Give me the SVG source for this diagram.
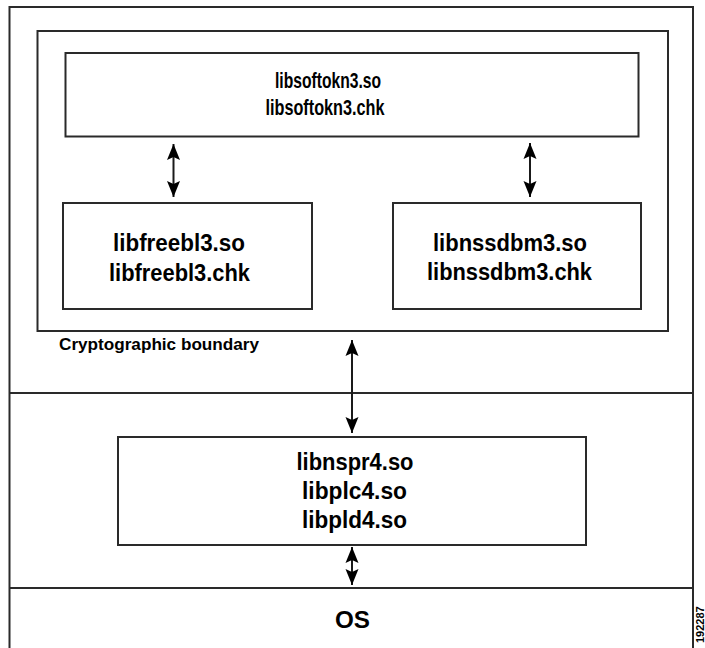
<svg xmlns="http://www.w3.org/2000/svg" width="705" height="648" viewBox="0 0 705 648">
<style>
  .box { fill: none; stroke: #2a2a2a; stroke-width: 2; }
  .ln { stroke: #2a2a2a; stroke-width: 2; fill: none; }
  .t { font-family: "Liberation Sans", Arial, sans-serif; font-weight: bold; fill: #000; text-anchor: middle; }
  .lbl { font-size: 23px; }
  .sm { font-size: 22px; }
  .cap { font-family: "Liberation Sans", Arial, sans-serif; font-weight: bold; font-size: 16.5px; fill: #000; }
  .os { font-family: "Liberation Sans", Arial, sans-serif; font-weight: bold; font-size: 24px; fill: #000; text-anchor: middle; }
  .arr { stroke: #1a1a1a; stroke-width: 2; fill: none; marker-start: url(#ah); marker-end: url(#ah); }
</style>
<defs>
  <marker id="ah" viewBox="-1 -7 18 14" refX="16" refY="0" markerWidth="18" markerHeight="14" markerUnits="userSpaceOnUse" orient="auto-start-reverse">
    <path d="M0,-6.5 L16,0 L0,6.5 L3,0 Z" fill="#000"/>
  </marker>
</defs>
<rect width="705" height="648" fill="#fff"/>

<g id="frame">
  <path class="ln" d="M9.5,650 L9.5,7 L693,7 L693,650"/>
  <line class="ln" x1="9.5" y1="393" x2="693" y2="393"/>
  <line class="ln" x1="9.5" y1="588" x2="693" y2="588"/>
</g>

<g id="boundary">
  <rect class="box" x="37.5" y="31" width="630.5" height="300"/>
  <text class="cap" x="59" y="350" textLength="200" lengthAdjust="spacingAndGlyphs">Cryptographic boundary</text>
</g>

<g id="softokn">
  <rect class="box" x="65.5" y="53" width="573" height="83.5"/>
  <text class="t sm" x="328" y="88" textLength="106" lengthAdjust="spacingAndGlyphs">libsoftokn3.so</text>
  <text class="t sm" x="325" y="115" textLength="119" lengthAdjust="spacingAndGlyphs">libsoftokn3.chk</text>
</g>

<g id="freebl">
  <rect class="box" x="63" y="203" width="249" height="106"/>
  <text class="t lbl" x="179" y="251" textLength="132" lengthAdjust="spacingAndGlyphs">libfreebl3.so</text>
  <text class="t lbl" x="179.5" y="281" textLength="141" lengthAdjust="spacingAndGlyphs">libfreebl3.chk</text>
</g>

<g id="nssdbm">
  <rect class="box" x="393" y="203" width="248" height="106"/>
  <text class="t lbl" x="510" y="251" textLength="154" lengthAdjust="spacingAndGlyphs">libnssdbm3.so</text>
  <text class="t lbl" x="509.5" y="280" textLength="165" lengthAdjust="spacingAndGlyphs">libnssdbm3.chk</text>
</g>

<g id="nspr">
  <rect class="box" x="118" y="437" width="468" height="108"/>
  <text class="t lbl" x="355" y="470" textLength="117" lengthAdjust="spacingAndGlyphs">libnspr4.so</text>
  <text class="t lbl" x="354.5" y="499" textLength="105" lengthAdjust="spacingAndGlyphs">libplc4.so</text>
  <text class="t lbl" x="354.5" y="528" textLength="105" lengthAdjust="spacingAndGlyphs">libpld4.so</text>
</g>

<g id="os">
  <text class="os" x="352.5" y="628" textLength="35" lengthAdjust="spacingAndGlyphs">OS</text>
</g>

<g id="connectors">
  <line class="arr" x1="173.5" y1="144" x2="173.5" y2="197"/>
  <line class="arr" x1="530" y1="143" x2="530" y2="197"/>
  <line class="arr" x1="352" y1="340" x2="352" y2="433"/>
  <line class="arr" x1="352" y1="547" x2="352" y2="585"/>
</g>

<g id="figure-id">
  <text class="cap" style="font-size:11px" transform="translate(703.5,643) rotate(-90)">192287</text>
</g>
</svg>
